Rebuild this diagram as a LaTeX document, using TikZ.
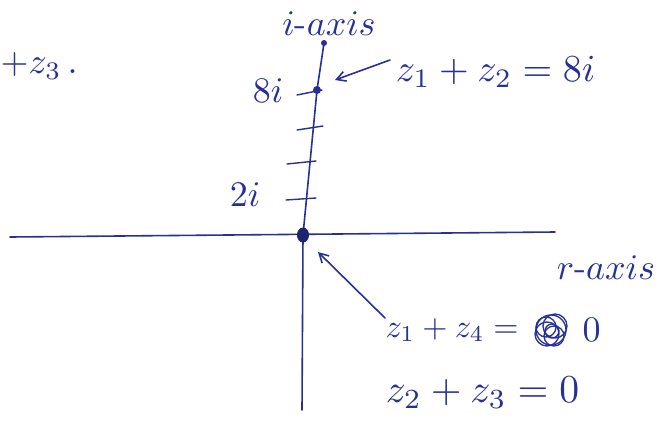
\documentclass[tikz,border=0pt]{standalone}
\usetikzlibrary{arrows.meta}
\definecolor{ink}{RGB}{38,48,150}
\begin{document}
\begin{tikzpicture}[x=1pt,y=-1pt,
  pen/.style={draw=ink,line width=1.6pt,line cap=round},
  lbl/.style={text=ink,inner sep=0pt,scale=3.6},
  tick/.style={pen,line width=1.4pt},
  arr/.style={pen,-{Straight Barb[length=9pt,width=10pt]}}]
\useasboundingbox (0,0) rectangle (669,429);
% axes
\coordinate (xl) at (10,237);
\coordinate (xr) at (555,232);
\coordinate (yt) at (324,43);
\coordinate (yb) at (302,410);
\coordinate (O) at (303,235);
\coordinate (P) at (317,90);
\draw[pen] (xl) -- (xr);
\draw[pen] (yt) -- (P) -- (O) -- (yb);
\fill[ink] (yt) circle (3pt);
% ticks
\coordinate (t0a) at (297,95); \coordinate (t0b) at (322,90);
\coordinate (t1a) at (297,130); \coordinate (t1b) at (323,126);
\coordinate (t2a) at (287,164); \coordinate (t2b) at (316,161);
\coordinate (t3a) at (286,200); \coordinate (t3b) at (316,198);
\draw[tick] (t0a) -- (t0b);
\draw[tick] (t1a) -- (t1b);
\draw[tick] (t2a) -- (t2b);
\draw[tick] (t3a) -- (t3b);
% points
\fill[ink!75!black] (O) ellipse (6pt and 7.5pt);
\fill[ink] (P) circle (4pt);
% labels
\node[lbl] (iaxis) at (329,24) {$i$-$axis$};
\node[lbl] (eight) at (268,91) {$8i$};
\node[lbl] (two) at (245,195) {$2i$};
\node[lbl] (raxis) at (606,268) {$r$-$axis$};
\node[lbl,anchor=west] (top) at (0,66) {$+z_3\,.$};
\node[lbl,scale=1.06,anchor=west] (s1) at (395,72) {$z_1+z_2=8i$};
\node[lbl,scale=0.9,anchor=west] (s2) at (385,330) {$z_1+z_4=$};
\node[lbl,anchor=west] (s2b) at (582,330) {$0$};
\foreach \a/\b/\r in {0/0/15,4/-4/12,-4/4/12,3/6/10,-5/-3/10,1/1/7}
  \draw[ink,line width=1.3pt] (551+\a,330+\b) circle (\r pt);
\node[lbl,scale=1.1,anchor=west] (s3) at (385,393) {$z_2+z_3=0$};
% arrows
\coordinate (a1s) at (390,60);
\coordinate (a1e) at (335,80);
\coordinate (a2s) at (385,318);
\coordinate (a2e) at (318,252);
\draw[arr] (a1s) -- (a1e);
\draw[arr] (a2s) -- (a2e);
\end{tikzpicture}
\end{document}
